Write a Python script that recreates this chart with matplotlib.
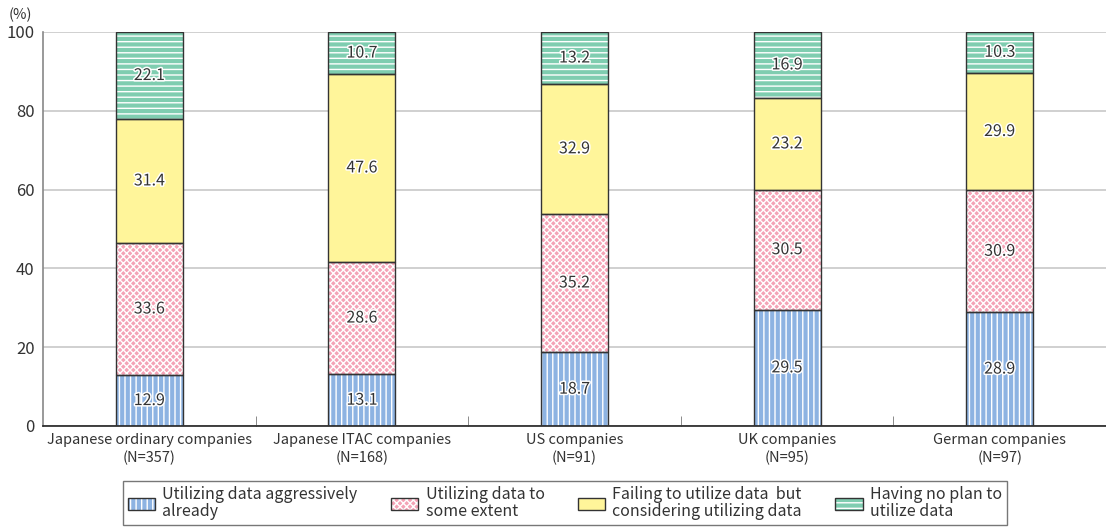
import matplotlib.pyplot as plt
import matplotlib.patheffects as pe
from matplotlib.patches import Patch
from matplotlib.legend_handler import HandlerTuple
import numpy as np

plt.rcParams['font.family'] = ['Noto Sans CJK JP', 'DejaVu Sans']
plt.rcParams['hatch.linewidth'] = 1.0

groups = ["Japanese ordinary companies\n(N=357)", "Japanese ITAC companies\n(N=168)",
          "US companies\n(N=91)", "UK companies\n(N=95)", "German companies\n(N=97)"]
aggressive = [12.9, 13.1, 18.7, 29.5, 28.9]
some_extent = [33.6, 28.6, 35.2, 30.5, 30.9]
considering = [31.4, 47.6, 32.9, 23.2, 29.9]
no_plan = [22.1, 10.7, 13.2, 16.9, 10.3]

series = [
    ("Utilizing data aggressively\nalready", aggressive, "#8db3e2", "|||"),
    ("Utilizing data to\nsome extent", some_extent, "#f4a3b6", "xxxxx"),
    ("Failing to utilize data  but\nconsidering utilizing data", considering, "#fff59a", None),
    ("Having no plan to\nutilize data", no_plan, "#7fcdb0", "---"),
]

fig = plt.figure(figsize=(11.06, 5.29), dpi=100)
ax = fig.add_axes([43 / 1106, 1 - 426 / 529, 1 - 43 / 1106, 394 / 529])

x = np.arange(len(groups))
width = 0.315
bottom = np.zeros(len(groups))
handles = []
for name, vals, col, hatch in series:
    vals = np.array(vals)
    ax.bar(x, vals, width, bottom=bottom, color=col, edgecolor="white",
           hatch=hatch, linewidth=0, zorder=2)
    ax.bar(x, vals, width, bottom=bottom, fill=False, edgecolor="#333333",
           linewidth=1.0, zorder=3)
    for xi, b, v in zip(x, bottom, vals):
        ax.text(xi, b + v / 2, f"{v:.1f}", ha="center", va="center", fontsize=11.5,
                color="#333333", zorder=4,
                path_effects=[pe.withStroke(linewidth=2.2, foreground="white")])
    bottom += vals
    h1 = Patch(facecolor=col, edgecolor="white", hatch=hatch, linewidth=0)
    h2 = Patch(fill=False, edgecolor="#333333", linewidth=1.0)
    handles.append((h1, h2))

ax.set_xlim(-0.5, len(groups) - 0.5)
ax.set_ylim(0, 100)
ax.set_yticks([0, 20, 40, 60, 80, 100])
ax.yaxis.grid(True, color="#c8c8c8", linewidth=1.2, zorder=0)
ax.set_axisbelow(True)
ax.set_xticks(x)
ax.set_xticklabels(groups, fontsize=10.5, color="#333333", linespacing=1.35)
ax.set_xticks(np.arange(0.5, len(groups) - 0.5), minor=True)
ax.tick_params(axis="x", which="major", length=0, pad=5)
ax.tick_params(axis="x", which="minor", length=7, direction="in", color="#777777")
ax.tick_params(axis="y", length=0, labelsize=12, colors="#333333", pad=6)
for s in ["top", "right"]:
    ax.spines[s].set_visible(False)
ax.spines["left"].set_color("#888888")
ax.spines["left"].set_linewidth(1.2)
ax.spines["bottom"].set_color("#222222")
ax.spines["bottom"].set_linewidth(1.2)

fig.text(20 / 1106, 1 - 15 / 529, "(%)", fontsize=10.5, color="#333333", ha="center", va="center")

leg = fig.legend(handles, [s[0] for s in series], ncol=4, loc="center",
                 bbox_to_anchor=(565 / 1106, 1 - 503 / 529),
                 handler_map={tuple: HandlerTuple(ndivide=1)},
                 fontsize=11.5, frameon=True, fancybox=False, edgecolor="#555555",
                 handlelength=1.7, handleheight=0.8, columnspacing=2.1,
                 handletextpad=0.45, borderpad=0.3)
leg.get_frame().set_linewidth(1.0)
for t in leg.get_texts():
    t.set_color("#333333")
    t.set_linespacing(1.05)

fig.savefig("out.png", dpi=100)
